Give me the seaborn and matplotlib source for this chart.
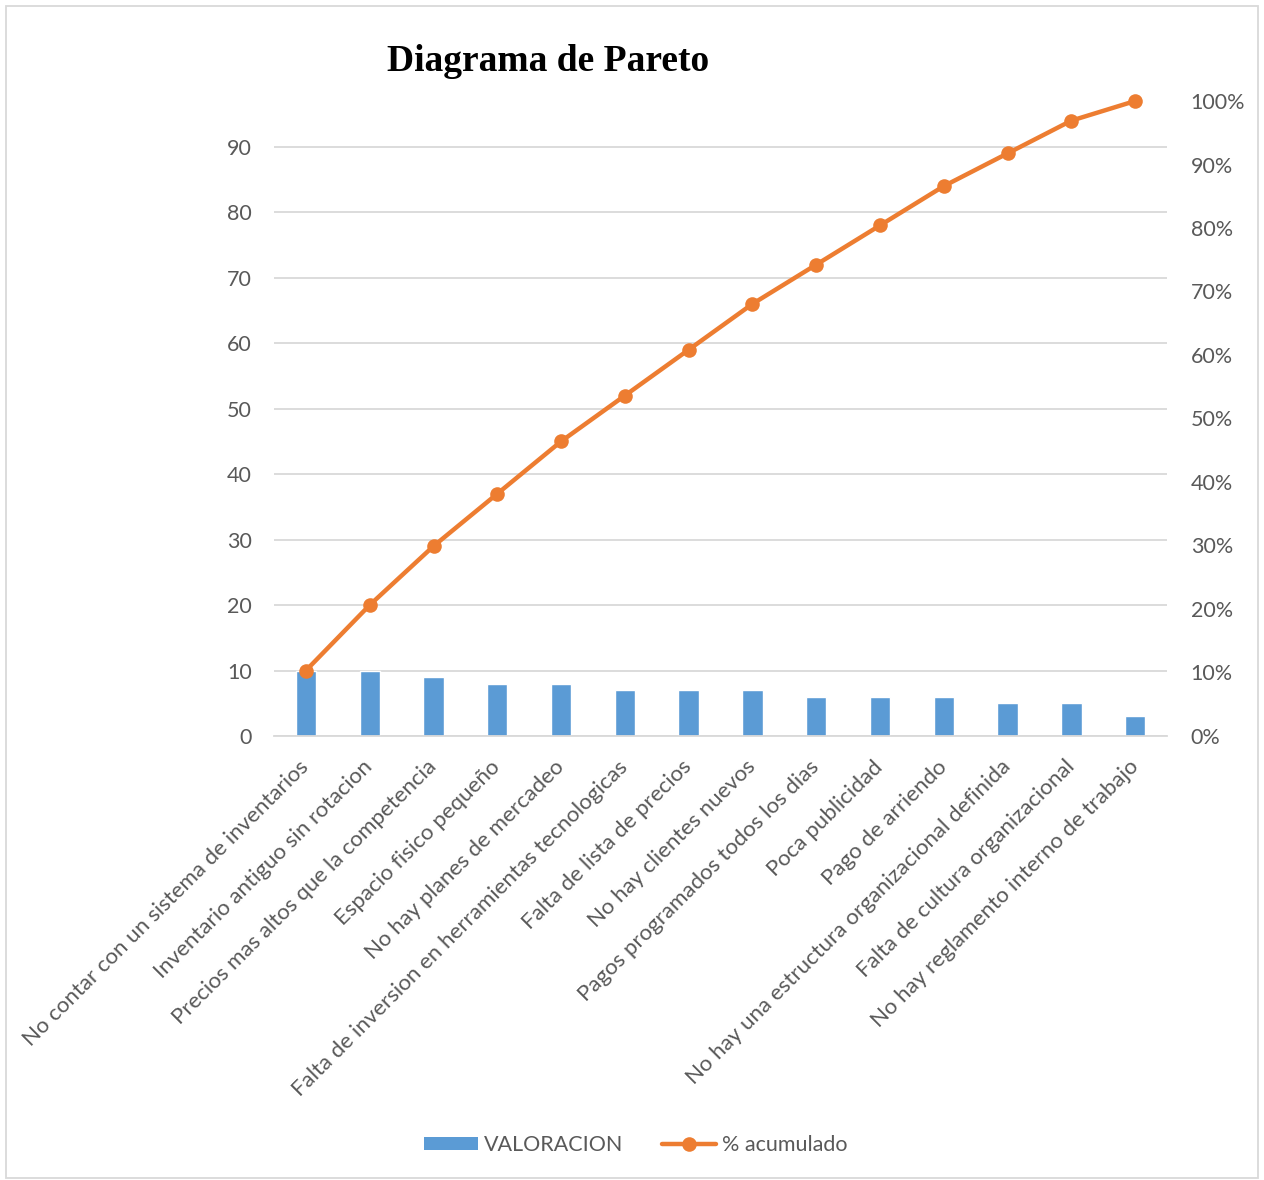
import numpy as np
import pandas as pd
import matplotlib
matplotlib.use("Agg")
import matplotlib.pyplot as plt
from matplotlib.patches import Rectangle
from matplotlib.lines import Line2D
from matplotlib.patches import Patch
from matplotlib.ticker import PercentFormatter
import seaborn as sns

causas = [
    "No contar con un sistema de inventarios",
    "Inventario antiguo sin rotacion",
    "Precios mas altos que la competencia",
    "Espacio fisico pequeño",
    "No hay planes de mercadeo",
    "Falta de inversion en herramientas tecnologicas",
    "Falta de lista de precios",
    "No hay clientes nuevos",
    "Pagos programados todos los dias",
    "Poca publicidad",
    "Pago de arriendo",
    "No hay una estructura organizacional definida",
    "Falta de cultura organizacional",
    "No hay reglamento interno de trabajo",
]
valoracion = [10, 10, 9, 8, 8, 7, 7, 7, 6, 6, 6, 5, 5, 3]

total = sum(valoracion)
acumulado = np.cumsum(valoracion) / total

df = pd.DataFrame({"causa": causas, "valoracion": valoracion,
                   "pos": np.arange(len(causas)), "acumulado": acumulado})

sns.set_theme(style="white")
plt.rcParams["font.family"] = ["Lato", "DejaVu Sans"]

BAR = "#5B9BD5"
LINE = "#ED7D31"
TXT = "#595959"
GRID = "#D9D9D9"

fig = plt.figure(figsize=(12.64, 11.8), dpi=100)
ax = fig.add_axes([0.2168, 0.3763, 0.7065, 0.5381])

sns.barplot(data=df, x="causa", y="valoracion", color=BAR, width=0.32,
            saturation=1, ax=ax, zorder=2)
ax.set_xlim(-0.5, len(causas) - 0.5)
ax.set_ylim(0, total)
ax.set_yticks(np.arange(0, 91, 10))
ax.yaxis.grid(True, color=GRID, linewidth=1.3, zorder=0)
ax.set_axisbelow(True)
ax.set_xlabel("")
ax.set_ylabel("")
for s in ["top", "right", "left"]:
    ax.spines[s].set_visible(False)
ax.spines["bottom"].set_color(GRID)
ax.spines["bottom"].set_linewidth(1.3)
ax.tick_params(axis="y", length=0, pad=16, labelsize=15.5, labelcolor=TXT)
ax.tick_params(axis="x", length=0, pad=20, labelsize=16, labelcolor=TXT)
ax.set_xticks(range(len(causas)))
ax.set_xticklabels(causas, rotation=45, ha="right", va="center",
                   rotation_mode="anchor")

ax2 = ax.twinx()
sns.lineplot(data=df, x="pos", y="acumulado", color=LINE, linewidth=3.2,
             marker="o", markersize=10.5, markeredgewidth=0, ax=ax2, zorder=3)
for ln in ax2.lines:
    ln.set_clip_on(False)
ax2.set_ylim(0, 1)
ax2.set_yticks(np.arange(0, 1.01, 0.1))
ax2.yaxis.set_major_formatter(PercentFormatter(1.0, decimals=0))
ax2.set_ylabel("")
ax2.set_xlabel("")
for s in ["top", "right", "left", "bottom"]:
    ax2.spines[s].set_visible(False)
ax2.tick_params(axis="y", length=0, pad=17, labelsize=15.5, labelcolor=TXT)
ax2.set_xlim(-0.5, len(causas) - 0.5)

fig.text(0.4335, 0.9475, "Diagrama de Pareto", ha="center", va="center",
         fontsize=27, fontweight="bold", family="Liberation Serif",
         color="black")

handles = [
    Patch(facecolor=BAR, edgecolor="none", label="VALORACION"),
    Line2D([0], [0], color=LINE, linewidth=3.2, marker="o", markersize=10.5,
           markeredgewidth=0, label="% acumulado"),
]
fig.legend(handles=handles, loc="center", bbox_to_anchor=(0.503, 0.0295),
           ncol=2, frameon=False, fontsize=15.5, labelcolor=TXT,
           handlelength=2.5, handleheight=0.6, columnspacing=1.8,
           handletextpad=0.3)

fig.patches.append(Rectangle((0.005, 0.002), 0.99, 0.993,
                             transform=fig.transFigure, fill=False,
                             edgecolor="#D9D9D9", linewidth=1.3))

fig.savefig("out.png", dpi=100)
